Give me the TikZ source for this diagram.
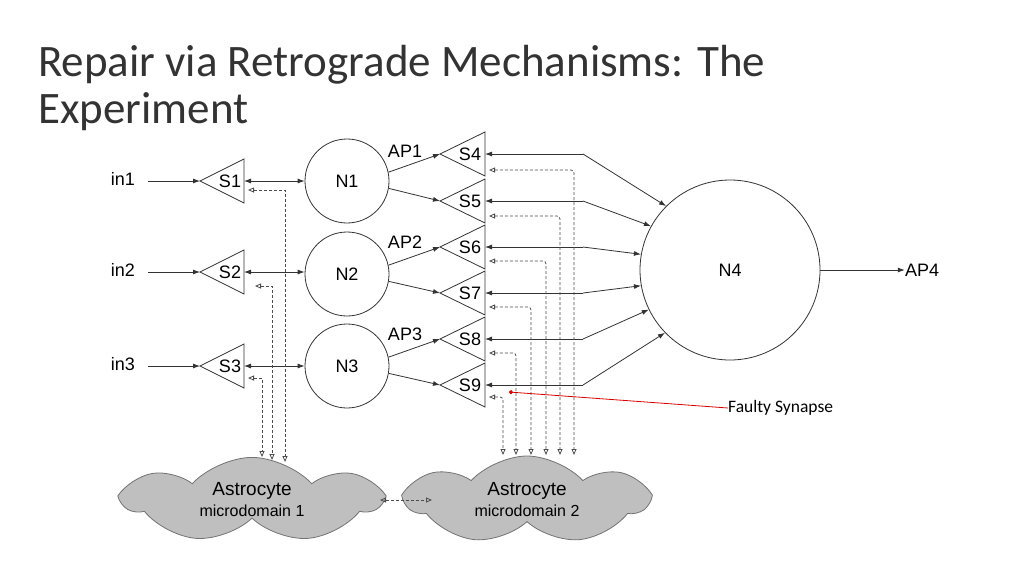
\documentclass[tikz,border=0pt]{standalone}
\usepackage{fontspec}
\setmainfont{Liberation Sans}
\newfontfamily\carfont{Carlito}
\usetikzlibrary{arrows.meta,shapes.symbols}
\begin{document}
\begin{tikzpicture}[x=1pt,y=-1pt,
  lbl/.style={font=\fontsize{18}{18}\selectfont, inner sep=0},
  ln/.style={draw=black!80, line width=0.8pt},
  arr/.style={ln,-{Latex[length=7pt,width=5pt]}},
  barr/.style={ln,{Latex[length=7pt,width=5pt]}-{Latex[length=7pt,width=5pt]}},
  dsh/.style={draw=black!70, line width=0.8pt, dash pattern=on 3pt off 2pt, {Triangle[open,length=6pt,width=5pt]}-{Triangle[open,length=6pt,width=5pt]}},
  neuron/.style={circle, draw=black!80, line width=0.8pt, inner sep=0},
  astro/.style={cloud, cloud puffs=7, cloud puff arc=95, aspect=3, fill=black!25, draw=black!55, line width=0.8pt, align=center, font=\fontsize{19}{21}\selectfont}]
\useasboundingbox (0,0) rectangle (1024,576);
\fill[white] (0,0) rectangle (1024,576);
\node[anchor=base west, inner sep=0, font=\carfont\fontsize{45}{50}\selectfont, text=black!80] (t1) at (38,76) {Repair via Retrograde Mechanisms: The};
\node[anchor=base west, inner sep=0, font=\carfont\fontsize{45}{50}\selectfont, text=black!80] (t2) at (38,123) {Experiment};
% input synapses
\foreach \n/\y in {1/181,2/272,3/366}{
  \draw[ln] (244,\y-22) -- (200,\y) -- (244,\y+22) -- cycle;
  \coordinate (S\n tip) at (200,\y);
  \coordinate (S\n) at (244,\y);
  \node[lbl] (S\n t) at (230,\y) {S\n};
  \node[lbl] (in\n) at (123,\y-2) {in\n};
  \coordinate (in\n e) at (148,\y);
  \draw[arr] (in\n e) -- (S\n tip);
}
\node[neuron, minimum size=84pt] (N1) at (347,181) {};
\node[neuron, minimum size=84pt] (N2) at (347,274) {};
\node[neuron, minimum size=84pt] (N3) at (347,366) {};
\foreach \n in {1,2,3}{
  \node[lbl] at (N\n) {N\n};
  \draw[barr] (S\n) -- (N\n.west |- S\n);
}
\node[neuron, minimum size=180pt] (N4) at (730,270) {};
\node[lbl] at (N4) {N4};
\node[lbl] (AP4) at (922,270) {AP4};
\draw[arr] (N4.east) -- (AP4.west);
% output synapses
\foreach \n/\y/\a in {4/154/135,5/201/151,6/247/170,7/293/190,8/339/206,9/385/224}{
  \draw[ln] (485,\y-22) -- (440,\y) -- (485,\y+22) -- cycle;
  \coordinate (S\n tip) at (440,\y);
  \coordinate (S\n) at (485,\y);
  \node[lbl] (S\n t) at (470,\y) {S\n};
  \coordinate (B\n) at (583,\y);
  \draw[arr] (B\n) -- (S\n);
  \draw[arr] (B\n) -- (N4.\a);
}
\draw[arr] (N1.12) -- (S4tip);
\draw[arr] (N1.-10) -- (S5tip);
\draw[arr] (N2.12) -- (S6tip);
\draw[arr] (N2.-10) -- (S7tip);
\draw[arr] (N3.12) -- (S8tip);
\draw[arr] (N3.-10) -- (S9tip);
\node[lbl] (AP1) at (405,151) {AP1};
\node[lbl] (AP2) at (405,242) {AP2};
\node[lbl] (AP3) at (405,334) {AP3};
% astrocytes
\node[astro, minimum width=255pt, minimum height=82pt] (A1) at (252,500) {Astrocyte\\\fontsize{16}{18}\selectfont microdomain 1};
\node[astro, minimum width=240pt, minimum height=88pt] (A2) at (527,500) {Astrocyte\\\fontsize{16}{18}\selectfont microdomain 2};
\coordinate (A1e) at (380,500);
\coordinate (A2w) at (432,500);
\draw[dsh] (A1e) -- (A2w);
% dashed retrograde
\coordinate (D1) at (285,462); \coordinate (D2) at (272,460); \coordinate (D3) at (262,457);
\draw[dsh] (248,190) -- (285,190) -- (D1);
\draw[dsh] (255,286) -- (272,286) -- (D2);
\draw[dsh] (248,378) -- (262,378) -- (D3);
\foreach \n/\y/\x in {4/170/574,5/216/560,6/261/546,7/307/531,8/353/516,9/397/503}{
  \coordinate (E\n) at (\x,455);
  \draw[dsh, rounded corners=3pt] (489,\y) -- (\x,\y) -- (E\n);
}
% faulty
\node[anchor=west, inner sep=0, font=\carfont\fontsize{17.5}{19}\selectfont] (F) at (728,408) {Faulty Synapse};
\coordinate (Fp) at (509,392);
\draw[red!85!black, line width=0.8pt, -{Circle[length=4pt]}] (F.west) -- (Fp);
\end{tikzpicture}
\end{document}
